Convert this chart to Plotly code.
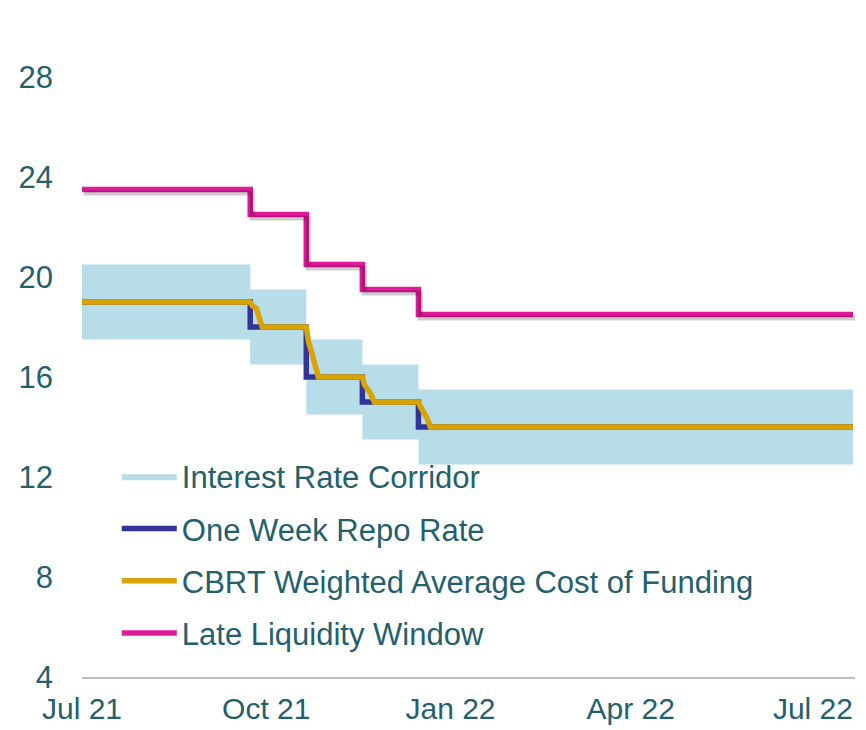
import plotly.graph_objects as go

# ---- data ----
step_dates = ["2021-07-01", "2021-09-23", "2021-10-21", "2021-11-18", "2021-12-16", "2022-07-21"]
repo_rate = [19.0, 18.0, 16.0, 15.0, 14.0, 14.0]
corridor_low = [17.5, 16.5, 14.5, 13.5, 12.5, 12.5]
corridor_high = [20.5, 19.5, 17.5, 16.5, 15.5, 15.5]
late_liquidity = [23.5, 22.5, 20.5, 19.5, 18.5, 18.5]

wacf_dates = ["2021-07-01", "2021-09-23", "2021-09-24", "2021-09-26", "2021-09-27", "2021-09-28",
              "2021-09-29", "2021-10-21", "2021-10-22", "2021-10-25", "2021-10-26", "2021-10-27",
              "2021-11-18", "2021-11-19", "2021-11-22", "2021-11-23", "2021-11-24",
              "2021-12-16", "2021-12-17", "2021-12-20", "2021-12-21", "2021-12-22", "2022-07-21"]
wacf = [19.0, 19.0, 18.85, 18.75, 18.5, 18.25,
        18.0, 18.0, 17.45, 16.6, 16.2, 16.0,
        16.0, 15.7, 15.35, 15.1, 15.0,
        15.0, 14.8, 14.4, 14.1, 14.0, 14.0]

tick_dates = ["2021-07-01", "2021-10-01", "2022-01-01", "2022-04-01", "2022-07-01"]
tick_labels = ["Jul 21", "Oct 21", "Jan 22", "Apr 22", "Jul 22"]
y_ticks = [4, 8, 12, 16, 20, 24, 28]

TXT = "#245F6E"
FONT = "Liberation Sans, Arial, sans-serif"

fig = go.Figure()

# corridor
fig.add_trace(go.Scatter(x=step_dates, y=corridor_low, mode="lines", line=dict(width=0, shape="hv"),
                         showlegend=False, hoverinfo="skip", legendgroup="a"))
fig.add_trace(go.Scatter(x=step_dates, y=corridor_high, mode="lines", line=dict(width=0, shape="hv"),
                         fill="tonexty", fillcolor="#B7DDE8", name="Interest Rate Corridor", legendgroup="a"))

# shadow for late liquidity window (offset axes)
fig.add_trace(go.Scatter(x=step_dates, y=late_liquidity, mode="lines", xaxis="x2", yaxis="y2",
                         line=dict(color="rgba(0,0,0,0.2)", width=5, shape="hv"),
                         showlegend=False, hoverinfo="skip", legendgroup="d"))

fig.add_trace(go.Scatter(x=step_dates, y=repo_rate, mode="lines", name="One Week Repo Rate",
                         line=dict(color="#333399", width=5.5, shape="hv"), legendgroup="b"))
fig.add_trace(go.Scatter(x=wacf_dates, y=wacf, mode="lines", name="CBRT Weighted Average Cost of Funding",
                         line=dict(color="#D9A300", width=5.5), legendgroup="c"))
fig.add_trace(go.Scatter(x=step_dates, y=late_liquidity, mode="lines", name="Late Liquidity Window",
                         line=dict(color="#E0189A", width=5.5, shape="hv"), legendgroup="d"))

fig.update_layout(
    width=866, height=730,
    margin=dict(l=82, r=11, t=27, b=53),
    paper_bgcolor="white", plot_bgcolor="white",
    font=dict(family=FONT, color=TXT, size=30),
    xaxis=dict(range=["2021-07-01", "2022-07-22"], tickvals=tick_dates, ticktext=tick_labels,
               showgrid=False, zeroline=False, showline=True, linecolor="#BFBFBF", linewidth=2,
               ticks="", ticklabelstandoff=4, automargin=False, tickfont=dict(size=30, color=TXT)),
    yaxis=dict(range=[4, 30], tickvals=y_ticks, showgrid=False, zeroline=False, showline=False,
               ticks="", ticklabelstandoff=28, automargin=False, tickfont=dict(size=31, color=TXT)),
    xaxis2=dict(range=["2021-06-30", "2022-07-21"], overlaying="x", visible=False),
    yaxis2=dict(range=[4.14, 30.14], overlaying="y", visible=False),
    legend=dict(x=0.045, y=0.35, xanchor="left", yanchor="top", bgcolor="rgba(0,0,0,0)",
                font=dict(size=31, color=TXT, family=FONT), itemwidth=55, tracegroupgap=9,
                traceorder="grouped"),
    showlegend=True,
)

fig.write_html("out.html", config={"displayModeBar": False},
               post_script="document.body.style.margin='0px';")
